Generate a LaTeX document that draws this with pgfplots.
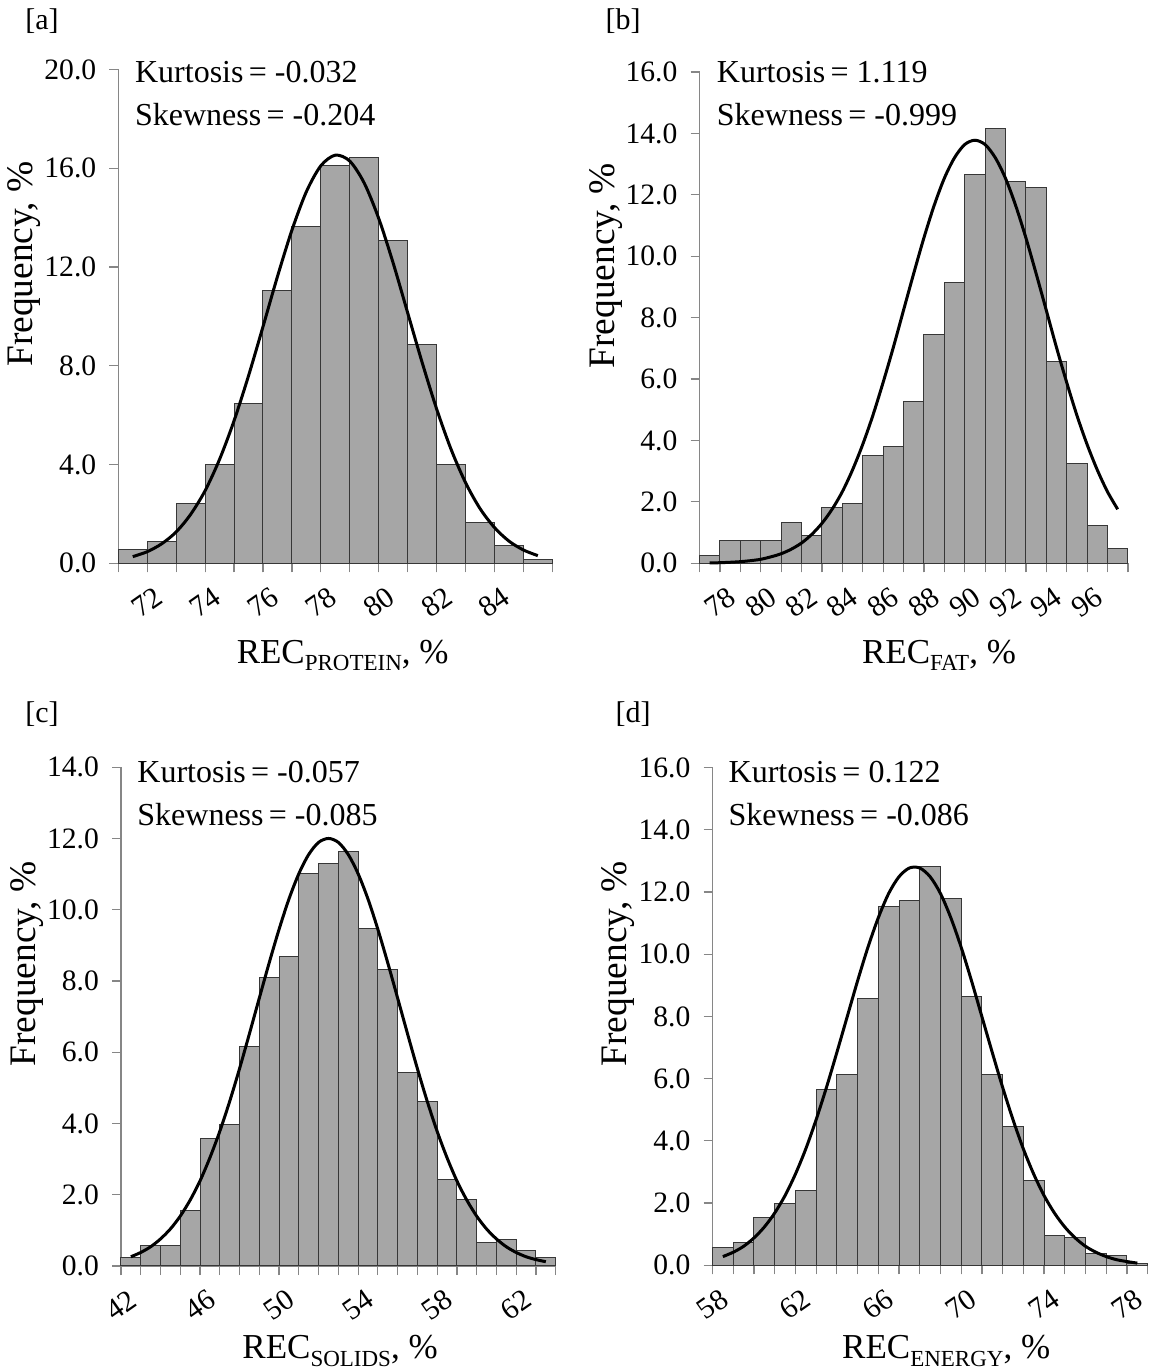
\documentclass[border=0pt]{standalone}
\usepackage{fontspec}
\setmainfont{Liberation Serif}
\usepackage{pgfplots}
\pgfplotsset{compat=1.18}

\definecolor{barfill}{RGB}{166,166,166}
\definecolor{baredge}{RGB}{55,55,55}
\definecolor{axisgray}{RGB}{134,134,134}

\newcommand{\tickfont}{\fontsize{14.8}{17}\selectfont}
\newcommand{\notefont}{\fontsize{16}{19}\selectfont}
\newcommand{\xlabfont}{\fontsize{17.5}{20}\selectfont}
\newcommand{\ylabfont}{\fontsize{18.7}{21}\selectfont}
\newcommand{\subfont}{\fontsize{11.5}{13}\selectfont}
\newcommand{\RECsub}[1]{REC\raisebox{-0.45ex}{\subfont #1}, \%}

\pgfplotsset{
  histo/.style={
    scale only axis,
    anchor=south west,
    axis x line=bottom,
    axis y line=left,
    axis line style={draw=axisgray, line width=0.6pt, -},
    every outer x axis line/.append style={-},
    every outer y axis line/.append style={-},
    tick align=outside,
    major tick length=4.5pt,
    minor tick length=4.5pt,
    tick style={draw=axisgray, line width=0.6pt},
    ymin=0,
    ticklabel style={font=\tickfont},
    yticklabel={\pgfmathprintnumber[fixed,fixed zerofill,precision=1,assume math mode=true]{\tick}},
    xticklabel={\pgfmathprintnumber[assume math mode=true]{\tick}},
    yticklabel style={xshift=-3pt},
    xticklabel style={yshift=-15pt, anchor=center, rotate=35},
    xlabel style={font=\xlabfont, anchor=base},
    ylabel={Frequency, \%},
    ylabel style={font=\ylabfont, at={(axis description cs:-0.217,0.606)}, anchor=center},
    clip=false,
  },
  bars/.style={ybar interval, fill=barfill, draw=baredge, line width=0.5pt},
  fit/.style={black, line width=1.5pt, smooth, no markers},
}

\begin{document}
\begin{tikzpicture}
\useasboundingbox (0pt,0pt) rectangle (577pt,685.5pt);

% ---------------- [a] protein ----------------
\begin{axis}[histo,
  at={(59.15pt,403.85pt)}, width=217pt, height=246.9pt,
  xmin=71, xmax=86, ymax=20,
  ytick={0,4,...,20},
  xtick={72,74,...,84}, minor xtick={71,...,86},
  xlabel={\RECsub{PROTEIN}},
  xlabel style={at={(axis description cs:0.517,-0.202)}},
]
\addplot[bars] coordinates {
  (71,0.57) (72,0.88) (73,2.42) (74,4.02) (75,6.48) (76,11.03) (77,13.66)
  (78,16.12) (79,16.44) (80,13.08) (81,8.88) (82,4.02) (83,1.65) (84,0.73)
  (85,0.16) (86,0.16)};
\addplot[fit] coordinates {
  (71.5,0.27) (72,0.47) (72.5,0.79) (73,1.27) (73.5,1.98) (74,2.94) (74.5,4.21)
  (75,5.77) (75.5,7.59) (76,9.58) (76.5,11.61) (77,13.49) (77.5,15.05) (78,16.10)
  (78.5,16.53) (79,16.29) (79.5,15.40) (80,13.97) (80.5,12.16) (81,10.15)
  (81.5,8.14) (82,6.26) (82.5,4.62) (83,3.27) (83.5,2.22) (84,1.45) (84.5,0.90)
  (85,0.54) (85.5,0.31)};
\end{axis}

% ---------------- [b] fat ----------------
\begin{axis}[histo,
  at={(349.75pt,403.85pt)}, width=214.2pt, height=245.6pt,
  xmin=77, xmax=98, ymax=16,
  ytick={0,2,...,16},
  xtick={78,80,...,96}, minor xtick={77,...,98},
  xlabel={\RECsub{FAT}},
  xlabel style={at={(axis description cs:0.559,-0.204)}},
]
\addplot[bars] coordinates {
  (77,0.26) (78,0.73) (79,0.73) (80,0.73) (81,1.32) (82,0.89) (83,1.82)
  (84,1.95) (85,3.50) (86,3.82) (87,5.28) (88,7.45) (89,9.15) (90,12.65)
  (91,14.17) (92,12.43) (93,12.24) (94,6.56) (95,3.26) (96,1.22) (97,0.48)
  (98,0.48)};
\addplot[fit] coordinates {
  (77.5,0.011) (78,0.019) (78.5,0.033) (79,0.053) (79.5,0.085) (80,0.13)
  (80.5,0.21) (81,0.31) (81.5,0.46) (82,0.66) (82.5,0.94) (83,1.30) (83.5,1.76)
  (84,2.33) (84.5,3.04) (85,3.87) (85.5,4.82) (86,5.89) (86.5,7.03) (87,8.24)
  (87.5,9.44) (88,10.60) (88.5,11.65) (89,12.54) (89.5,13.21) (90,13.64)
  (90.5,13.78) (91,13.64) (91.5,13.21) (92,12.54) (92.5,11.65) (93,10.60)
  (93.5,9.44) (94,8.24) (94.5,7.03) (95,5.89) (95.5,4.82) (96,3.87) (96.5,3.04)
  (97,2.33) (97.5,1.76)};
\end{axis}

% ---------------- [c] solids ----------------
\begin{axis}[histo,
  at={(60.5pt,52.5pt)}, width=217.35pt, height=249.4pt,
  xmin=42, xmax=64, ymax=14,
  ytick={0,2,...,14},
  xtick={42,46,...,62}, minor xtick={42,...,64},
  xlabel={\RECsub{SOLIDS}},
  xlabel style={at={(axis description cs:0.504,-0.186)}},
]
\addplot[bars] coordinates {
  (42,0.25) (43,0.58) (44,0.58) (45,1.56) (46,3.57) (47,3.98) (48,6.16)
  (49,8.10) (50,8.68) (51,11.02) (52,11.30) (53,11.64) (54,9.47) (55,8.33)
  (56,5.43) (57,4.61) (58,2.44) (59,1.87) (60,0.67) (61,0.74) (62,0.43)
  (63,0.25) (64,0.25)};
\addplot[fit] coordinates {
  (42.5,0.26) (43,0.38) (43.5,0.54) (44,0.76) (44.5,1.04) (45,1.40) (45.5,1.85)
  (46,2.39) (46.5,3.04) (47,3.78) (47.5,4.62) (48,5.54) (48.5,6.52) (49,7.52)
  (49.5,8.51) (50,9.45) (50.5,10.30) (51,11.01) (51.5,11.55) (52,11.89)
  (52.5,12.00) (53,11.89) (53.5,11.55) (54,11.01) (54.5,10.30) (55,9.45)
  (55.5,8.51) (56,7.52) (56.5,6.52) (57,5.54) (57.5,4.62) (58,3.78) (58.5,3.04)
  (59,2.39) (59.5,1.85) (60,1.40) (60.5,1.04) (61,0.76) (61.5,0.54) (62,0.38)
  (62.5,0.26) (63,0.18) (63.5,0.12)};
\end{axis}

% ---------------- [d] energy ----------------
\begin{axis}[histo,
  at={(356.25pt,52.85pt)}, width=217.6pt, height=248.9pt,
  xmin=58, xmax=79, ymax=16,
  ytick={0,2,...,16},
  xtick={58,62,...,78}, minor xtick={58,...,79},
  xlabel={\RECsub{ENERGY}},
  xlabel style={at={(axis description cs:0.537,-0.188)}},
]
\addplot[bars] coordinates {
  (58,0.58) (59,0.73) (60,1.54) (61,2.00) (62,2.40) (63,5.66) (64,6.14)
  (65,8.56) (66,11.54) (67,11.71) (68,12.83) (69,11.79) (70,8.64) (71,6.14)
  (72,4.47) (73,2.73) (74,0.97) (75,0.88) (76,0.39) (77,0.31) (78,0.06)
  (79,0.06)};
\addplot[fit] coordinates {
  (58.5,0.28) (59,0.42) (59.5,0.61) (60,0.88) (60.5,1.23) (61,1.68) (61.5,2.24)
  (62,2.93) (62.5,3.74) (63,4.68) (63.5,5.72) (64,6.84) (64.5,7.99) (65,9.14)
  (65.5,10.22) (66,11.17) (66.5,11.95) (67,12.49) (67.5,12.77) (68,12.77)
  (68.5,12.49) (69,11.95) (69.5,11.17) (70,10.22) (70.5,9.14) (71,7.99)
  (71.5,6.84) (72,5.72) (72.5,4.68) (73,3.74) (73.5,2.93) (74,2.24) (74.5,1.68)
  (75,1.23) (75.5,0.88) (76,0.61) (76.5,0.42) (77,0.28) (77.5,0.18) (78,0.12)
  (78.5,0.07)};
\end{axis}

% statistics and panel letters (positions in pt)
\begin{scope}[every node/.style={inner sep=0pt, anchor=west, font=\notefont}]
\node at (67.35pt,649.5pt) {Kurtosis\,= -0.032};
\node at (67.35pt,628pt) {Skewness\,= -0.204};
\node at (358.25pt,649.5pt) {Kurtosis\,= 1.119};
\node at (358.25pt,628pt) {Skewness\,= -0.999};
\node at (68.5pt,299.5pt) {Kurtosis\,= -0.057};
\node at (68.5pt,278pt) {Skewness\,= -0.085};
\node at (364.15pt,299.5pt) {Kurtosis\,= 0.122};
\node at (364.15pt,278pt) {Skewness\,= -0.086};
\end{scope}
\begin{scope}[every node/.style={inner sep=0pt, anchor=center, font=\fontsize{15}{18}\selectfont}]
\node at (21pt,675pt) {[a]};
\node at (311.5pt,675pt) {[b]};
\node at (21pt,328.5pt) {[c]};
\node at (316.5pt,328.5pt) {[d]};
\end{scope}
\end{tikzpicture}
\end{document}
